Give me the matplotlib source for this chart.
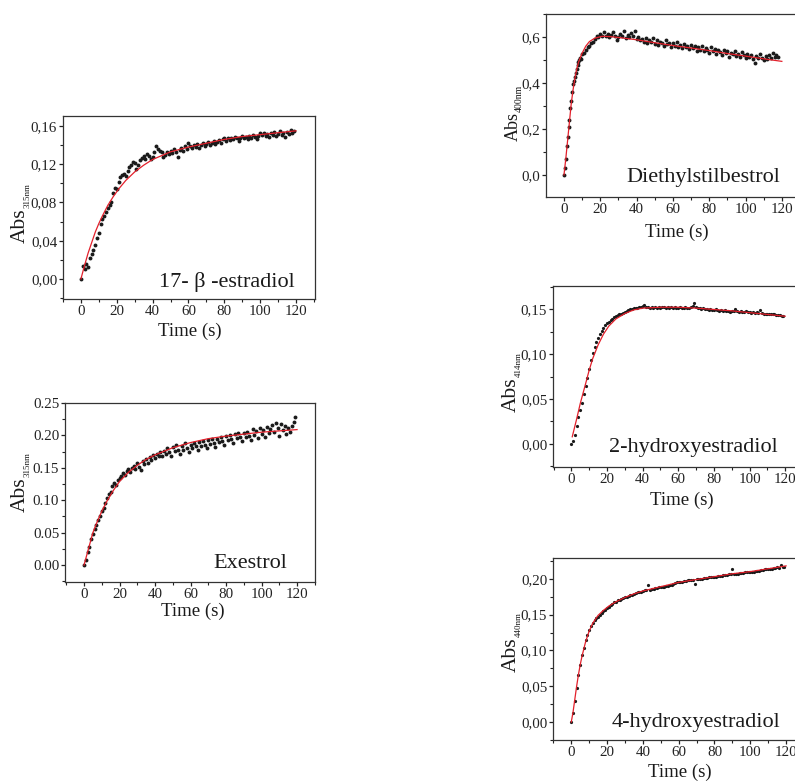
import matplotlib
matplotlib.use('Agg')
import matplotlib.pyplot as plt
from matplotlib.ticker import FixedLocator, MultipleLocator

plt.rcParams['font.family'] = ['Liberation Serif', 'DejaVu Serif']

# ---- 17-beta-estradiol (Abs 315 nm) ----
t_est = list(range(0, 120))
abs_est = [0.000, 0.014, 0.010, 0.016, 0.012, 0.022, 0.026, 0.030, 0.035, 0.043,
           0.048, 0.058, 0.063, 0.066, 0.070, 0.074, 0.077, 0.081, 0.090, 0.095,
           0.094, 0.101, 0.107, 0.109, 0.110, 0.108, 0.113, 0.117, 0.119, 0.122,
           0.121, 0.115, 0.119, 0.124, 0.127, 0.129, 0.126, 0.131, 0.129, 0.125,
           0.128, 0.133, 0.139, 0.136, 0.134, 0.133, 0.128, 0.130, 0.133, 0.131,
           0.134, 0.132, 0.136, 0.133, 0.128, 0.135, 0.137, 0.134, 0.139, 0.136,
           0.142, 0.139, 0.137, 0.140, 0.138, 0.141, 0.137, 0.140, 0.142, 0.139,
           0.141, 0.143, 0.140, 0.142, 0.144, 0.141, 0.143, 0.145, 0.142, 0.146,
           0.148, 0.144, 0.147, 0.145, 0.148, 0.146, 0.149, 0.147, 0.144, 0.148,
           0.150, 0.147, 0.149, 0.146, 0.150, 0.148, 0.151, 0.149, 0.146, 0.150,
           0.153, 0.151, 0.153, 0.150, 0.152, 0.149, 0.153, 0.151, 0.154, 0.150,
           0.152, 0.155, 0.151, 0.153, 0.149, 0.154, 0.152, 0.156, 0.153, 0.155]
fit_t_est = [0, 2, 4, 6, 8, 10, 12, 15, 18, 21, 25, 30, 35, 40, 45, 50, 60, 70, 80, 90, 100, 110, 120]
fit_est = [0.000, 0.014, 0.027, 0.038, 0.049, 0.058, 0.066, 0.077, 0.086, 0.094, 0.103, 0.112,
           0.119, 0.125, 0.129, 0.133, 0.138, 0.142, 0.146, 0.149, 0.151, 0.153, 0.155]
ticks_est = [0.00, 0.04, 0.08, 0.12, 0.16]
labels_est = ['0,00', '0,04', '0,08', '0,12', '0,16']

# ---- Exestrol (Abs 315 nm) ----
t_exe = list(range(0, 120))
abs_exe = [0.000, 0.008, 0.020, 0.028, 0.040, 0.048, 0.055, 0.062, 0.070, 0.076,
           0.083, 0.088, 0.096, 0.104, 0.110, 0.113, 0.122, 0.126, 0.124, 0.131,
           0.135, 0.137, 0.142, 0.139, 0.145, 0.148, 0.144, 0.150, 0.153, 0.149,
           0.158, 0.152, 0.147, 0.160, 0.156, 0.164, 0.158, 0.167, 0.162, 0.170,
           0.165, 0.172, 0.168, 0.174, 0.169, 0.176, 0.171, 0.180, 0.174, 0.169,
           0.182, 0.176, 0.185, 0.178, 0.172, 0.183, 0.177, 0.188, 0.180, 0.174,
           0.186, 0.181, 0.189, 0.183, 0.178, 0.190, 0.184, 0.192, 0.186, 0.180,
           0.193, 0.187, 0.195, 0.189, 0.182, 0.194, 0.190, 0.198, 0.191, 0.186,
           0.199, 0.193, 0.201, 0.195, 0.188, 0.202, 0.196, 0.204, 0.197, 0.191,
           0.203, 0.198, 0.206, 0.199, 0.193, 0.210, 0.200, 0.207, 0.196, 0.212,
           0.202, 0.209, 0.198, 0.213, 0.204, 0.210, 0.216, 0.205, 0.219, 0.212,
           0.199, 0.217, 0.208, 0.214, 0.202, 0.211, 0.206, 0.215, 0.221, 0.228]
fit_t_exe = [0, 1, 2, 3, 5, 7, 10, 13, 16, 20, 25, 30, 35, 40, 50, 60, 70, 80, 90, 100, 110, 120]
fit_exe = [0.000, 0.010, 0.020, 0.030, 0.050, 0.064, 0.083, 0.099, 0.113, 0.129, 0.143, 0.154,
           0.163, 0.170, 0.181, 0.189, 0.195, 0.199, 0.202, 0.205, 0.207, 0.209]
ticks_exe = [0.00, 0.05, 0.10, 0.15, 0.20, 0.25]
labels_exe = ['0.00', '0.05', '0.10', '0.15', '0.20', '0.25']

# ---- Diethylstilbestrol (Abs 400 nm) ----
t_dsb = [0, 0.5, 1, 1.5, 2, 2.5, 3, 3.5, 4, 4.5, 5, 5.5, 6, 6.5, 7, 7.5, 8, 8.5, 9, 9.5] + list(range(10, 119))
abs_dsb = [0.000, 0.030, 0.070, 0.125, 0.165, 0.210, 0.240, 0.290, 0.320, 0.360,
           0.395, 0.410, 0.425, 0.445, 0.460, 0.480, 0.490, 0.500, 0.510, 0.505,
           0.525, 0.530, 0.545, 0.555, 0.560, 0.575, 0.580, 0.590, 0.605, 0.598,
           0.612, 0.605, 0.620, 0.603, 0.615, 0.598, 0.610, 0.622, 0.605, 0.585,
           0.600, 0.615, 0.605, 0.625, 0.595, 0.610, 0.600, 0.618, 0.605, 0.628,
           0.590, 0.598, 0.585, 0.592, 0.580, 0.594, 0.575, 0.588, 0.578, 0.595,
           0.570, 0.585, 0.565, 0.580, 0.572, 0.560, 0.585, 0.568, 0.575, 0.555,
           0.572, 0.560, 0.578, 0.558, 0.565, 0.550, 0.570, 0.556, 0.562, 0.548,
           0.566, 0.552, 0.560, 0.540, 0.558, 0.545, 0.562, 0.538, 0.552, 0.545,
           0.530, 0.555, 0.540, 0.548, 0.528, 0.545, 0.535, 0.520, 0.542, 0.530,
           0.538, 0.515, 0.532, 0.525, 0.540, 0.518, 0.528, 0.512, 0.533, 0.520,
           0.510, 0.527, 0.515, 0.522, 0.505, 0.485, 0.518, 0.508, 0.525, 0.510,
           0.500, 0.517, 0.505, 0.520, 0.508, 0.530, 0.512, 0.522, 0.515]
fit_t_dsb = [0, 1, 2, 3, 4, 5, 6, 7, 8, 10, 12, 14, 17, 21, 25, 30, 40, 50, 60, 70, 80, 90, 100, 110, 120]
fit_dsb = [0.000, 0.070, 0.150, 0.230, 0.310, 0.370, 0.420, 0.460, 0.490, 0.530, 0.560, 0.580,
           0.595, 0.603, 0.602, 0.598, 0.588, 0.575, 0.563, 0.552, 0.541, 0.528, 0.517, 0.505, 0.494]
ticks_dsb = [0.0, 0.2, 0.4, 0.6]
labels_dsb = ['0,0', '0,2', '0,4', '0,6']

# ---- 2-hydroxyestradiol (Abs 414 nm) ----
t_2oh = list(range(0, 120))
abs_2oh = [0.000, 0.003, 0.010, 0.020, 0.030, 0.038, 0.045, 0.055, 0.064, 0.073,
           0.083, 0.093, 0.101, 0.108, 0.113, 0.118, 0.122, 0.126, 0.129, 0.132,
           0.134, 0.136, 0.138, 0.139, 0.141, 0.142, 0.143, 0.144, 0.145, 0.146,
           0.147, 0.148, 0.149, 0.150, 0.150, 0.151, 0.151, 0.151, 0.152, 0.152,
           0.153, 0.154, 0.152, 0.152, 0.151, 0.152, 0.151, 0.152, 0.151, 0.152,
           0.151, 0.152, 0.152, 0.151, 0.152, 0.151, 0.152, 0.151, 0.152, 0.151,
           0.151, 0.152, 0.151, 0.151, 0.152, 0.151, 0.151, 0.152, 0.153, 0.157,
           0.152, 0.151, 0.151, 0.150, 0.151, 0.150, 0.150, 0.149, 0.150, 0.149,
           0.149, 0.150, 0.149, 0.148, 0.149, 0.148, 0.149, 0.148, 0.148, 0.147,
           0.148, 0.148, 0.150, 0.148, 0.147, 0.148, 0.147, 0.147, 0.148, 0.147,
           0.147, 0.146, 0.147, 0.146, 0.147, 0.146, 0.149, 0.146, 0.145, 0.145,
           0.145, 0.144, 0.145, 0.144, 0.144, 0.143, 0.143, 0.143, 0.142, 0.142]
fit_t_2oh = [0.5, 3, 5, 8, 10, 12, 15, 18, 21, 25, 30, 35, 40, 50, 60, 70, 80, 90, 100, 110, 120]
fit_2oh = [0.008, 0.028, 0.045, 0.067, 0.082, 0.095, 0.110, 0.122, 0.131, 0.139, 0.145, 0.149,
           0.151, 0.152, 0.152, 0.151, 0.1495, 0.148, 0.146, 0.144, 0.142]
ticks_2oh = [0.00, 0.05, 0.10, 0.15]
labels_2oh = ['0,00', '0,05', '0,10', '0,15']

# ---- 4-hydroxyestradiol (Abs 440 nm) ----
t_4oh = list(range(0, 120))
abs_4oh = [0.000, 0.012, 0.030, 0.048, 0.066, 0.080, 0.093, 0.104, 0.114, 0.122,
           0.128, 0.134, 0.138, 0.142, 0.145, 0.147, 0.150, 0.152, 0.155, 0.157,
           0.159, 0.161, 0.163, 0.165, 0.167, 0.168, 0.170, 0.171, 0.172, 0.173,
           0.174, 0.175, 0.176, 0.177, 0.178, 0.179, 0.180, 0.181, 0.182, 0.182,
           0.183, 0.184, 0.184, 0.191, 0.185, 0.186, 0.186, 0.187, 0.187, 0.188,
           0.188, 0.189, 0.189, 0.190, 0.190, 0.191, 0.192, 0.193, 0.194, 0.195,
           0.196, 0.196, 0.196, 0.197, 0.197, 0.198, 0.198, 0.198, 0.198, 0.193,
           0.199, 0.200, 0.200, 0.200, 0.201, 0.201, 0.201, 0.202, 0.202, 0.203,
           0.203, 0.203, 0.204, 0.204, 0.204, 0.205, 0.205, 0.205, 0.206, 0.206,
           0.213, 0.207, 0.207, 0.207, 0.208, 0.208, 0.208, 0.209, 0.209, 0.209,
           0.210, 0.210, 0.210, 0.211, 0.211, 0.211, 0.212, 0.212, 0.213, 0.213,
           0.213, 0.214, 0.214, 0.215, 0.215, 0.216, 0.215, 0.219, 0.216, 0.217]
fit_t_4oh = [0, 1, 2, 3, 4, 5, 6, 8, 10, 12, 15, 18, 21, 25, 30, 35, 40, 50, 60, 70, 80, 90, 100, 110, 120]
fit_4oh = [0.000, 0.014, 0.032, 0.050, 0.066, 0.080, 0.092, 0.112, 0.127, 0.138, 0.149, 0.156,
           0.162, 0.168, 0.174, 0.179, 0.183, 0.189, 0.195, 0.199, 0.203, 0.207, 0.210, 0.214, 0.218]
ticks_4oh = [0.00, 0.05, 0.10, 0.15, 0.20]
labels_4oh = ['0,00', '0,05', '0,10', '0,15', '0,20']

W, H = 795, 782
fig = plt.figure(figsize=(W / 100, H / 100), dpi=100)


def px_axes(left, top, right, bottom):
    return [left / W, 1 - bottom / H, (right - left) / W, (bottom - top) / H]


panels = [
    # t, y, fit t, fit y, ticks, labels, minor, box(px), xlim, ylim, name, sub, abs pos(px), abs size, sub size, name pos, xlabel pos, ms
    (t_est, abs_est, fit_t_est, fit_est, ticks_est, labels_est, 0.02,
     (63, 116, 315, 299), (-10, 130.6), (-0.021, 0.1705), '17- β -estradiol', '315nm',
     (29.5, 243), 15.5, 6.5, (0.92, 0.093), (0.504, -0.178), 2.8),
    (t_exe, abs_exe, fit_t_exe, fit_exe, ticks_exe, labels_exe, 0.025,
     (65, 403, 315, 582), (-10.7, 130.1), (-0.026, 0.25), 'Exestrol', '315nm',
     (29.5, 512), 15.5, 6.5, (0.888, 0.106), (0.512, -0.166), 2.8),
    (t_dsb, abs_dsb, fit_t_dsb, fit_dsb, ticks_dsb, labels_dsb, 0.1,
     (546, 14, 800, 197), (-9.9, 130), (-0.096, 0.70), 'Diethylstilbestrol', '400nm',
     (522, 141), 13, 7, (0.921, 0.104), (0.515, -0.193), 2.8),
    (t_2oh, abs_2oh, fit_t_2oh, fit_2oh, ticks_2oh, labels_2oh, 0.025,
     (553, 286, 803, 467), (-10.3, 130), (-0.0256, 0.1756), '2-hydroxyestradiol', '414nm',
     (521, 412), 15.5, 6.5, (0.897, 0.105), (0.516, -0.182), 2.3),
    (t_4oh, abs_4oh, fit_t_4oh, fit_4oh, ticks_4oh, labels_4oh, 0.025,
     (553, 558, 804, 740), (-10.2, 130), (-0.025, 0.229), '4-hydroxyestradiol', '440nm',
     (521, 672), 15.5, 6.5, (0.905, 0.094), (0.506, -0.18), 2.3),
]

for (t, y, ft, fy, yt, yl, ymin, box, xlim, ylim, name, sub,
     abspos, abs_fs, sub_fs, namepos, xlpos, ms) in panels:
    ax = fig.add_axes(px_axes(*box))
    ax.plot(t, y, 'o', ms=ms, color='#1a1a1a', mec='none', zorder=2)
    ax.plot(ft, fy, '-', color='#e3202b', lw=0.9, zorder=3)
    ax.set_xlim(*xlim)
    ax.set_ylim(*ylim)
    ax.xaxis.set_major_locator(FixedLocator([0, 20, 40, 60, 80, 100, 120]))
    ax.xaxis.set_minor_locator(MultipleLocator(10))
    ax.yaxis.set_major_locator(FixedLocator(yt))
    ax.set_yticklabels(yl)
    ax.yaxis.set_minor_locator(MultipleLocator(ymin))
    ax.tick_params(which='both', direction='out', top=False, right=False,
                   labelsize=10.8, colors='#222222', pad=1.2)
    ax.tick_params(which='major', length=3, width=0.9)
    ax.tick_params(which='minor', length=2, width=0.8)
    for s in ax.spines.values():
        s.set_color('#333333')
        s.set_linewidth(0.9)
    ax.text(namepos[0], namepos[1], name, transform=ax.transAxes,
            ha='right', va='center', fontsize=16, color='#1a1a1a')
    ax.set_xlabel('Time (s)', fontsize=13.5, color='#1a1a1a')
    ax.xaxis.set_label_coords(xlpos[0], xlpos[1])
    ax.xaxis.label.set_va('center')
    lab = fig.text(abspos[0] / W, 1 - abspos[1] / H, 'Abs', rotation=90,
                   ha='right', va='bottom', fontsize=abs_fs, color='#1a1a1a')
    ax.annotate(sub, xy=(1, 1), xycoords=lab, xytext=(1.5, 0),
                textcoords='offset points', rotation=90, ha='right', va='bottom',
                fontsize=sub_fs, color='#1a1a1a', annotation_clip=False)

fig.savefig('out.png', dpi=100)
